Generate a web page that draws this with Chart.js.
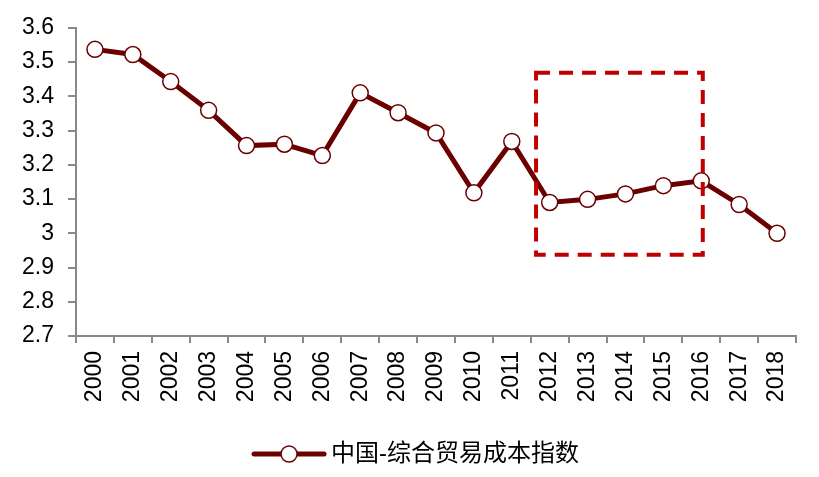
<!DOCTYPE html>
<html>
<head>
<meta charset="utf-8">
<script src="https://cdn.jsdelivr.net/npm/chart.js@4/dist/chart.umd.min.js"></script>
<style>
  body { margin: 0; background: #fff; }
</style>
</head>
<body>
<canvas id="myChart" width="819" height="477"></canvas>
<script>
const years = ['2000','2001','2002','2003','2004','2005','2006','2007','2008','2009',
               '2010','2011','2012','2013','2014','2015','2016','2017','2018'];
const costIndex = [3.537, 3.522, 3.443, 3.359, 3.256, 3.26, 3.227, 3.41, 3.352, 3.293,
                   3.118, 3.268, 3.09, 3.099, 3.115, 3.139, 3.153, 3.084, 3.0];
const yMin = 2.7;
const yMax = 3.6;
const yStep = 0.1;
const seriesName = '中国-综合贸易成本指数';
// highlighted period, in axis units (category index / index value)
const boxFrom = 11.64, boxTo = 16.04, boxLow = 2.937, boxHigh = 3.469;

const lineColor = '#6B0000';
const axisColor = '#898989';
const fontFamily = "'Liberation Sans', Arial, 'Noto Sans CJK SC', sans-serif";

// legend sample: line with a hollow circle in the middle
const legendImg = document.createElement('canvas');
legendImg.width = 76; legendImg.height = 20;
let lc = legendImg.getContext('2d');
lc.strokeStyle = lineColor; lc.lineWidth = 5; lc.lineCap = 'round';
lc.beginPath(); lc.moveTo(3, 10); lc.lineTo(73, 10); lc.stroke();
lc.fillStyle = '#fff'; lc.lineWidth = 1.5;
lc.beginPath(); lc.arc(38, 10, 8, 0, Math.PI * 2); lc.fill(); lc.stroke();

const highlightBox = {
  id: 'highlightBox',
  afterDatasetsDraw(chart) {
    const x = chart.scales.x, y = chart.scales.y, ctx = chart.ctx;
    const l = x.getPixelForValue(boxFrom), r = x.getPixelForValue(boxTo);
    const t = y.getPixelForValue(boxHigh), b = y.getPixelForValue(boxLow);
    ctx.save();
    ctx.strokeStyle = '#C00000';
    ctx.lineWidth = 4;
    ctx.setLineDash([14, 9]);
    ctx.strokeRect(l, t, r - l, b - t);
    ctx.restore();
  }
};

// nudge the legend a bit to the right, like the original
const legendShift = {
  id: 'legendShift',
  afterLayout(chart) {
    chart.legend.left += 21;
    chart.legend.right += 21;
  }
};

let ctx = document.getElementById('myChart').getContext('2d');
let chart = new Chart(ctx, {
  type: 'line',
  data: {
    labels: years,
    datasets: [{
      label: seriesName,
      data: costIndex,
      borderColor: lineColor,
      borderWidth: 5,
      pointRadius: 8,
      pointHoverRadius: 8,
      pointBorderWidth: 1.5,
      pointBackgroundColor: '#fff',
      pointBorderColor: lineColor,
      tension: 0
    }]
  },
  plugins: [highlightBox, legendShift],
  options: {
    responsive: false,
    animation: false,
    layout: { padding: { top: 24, right: 23, bottom: 1, left: 0 } },
    plugins: {
      legend: {
        position: 'bottom',
        labels: {
          usePointStyle: true,
          pointStyle: legendImg,
          pointStyleWidth: 60,
          padding: 10,
          color: '#000',
          font: { family: fontFamily, size: 24 }
        }
      },
      tooltip: { enabled: false }
    },
    scales: {
      x: {
        offset: true,
        grid: { drawOnChartArea: false, drawTicks: true, tickLength: 7, color: axisColor, lineWidth: 2, offset: true },
        border: { color: axisColor, width: 2 },
        ticks: { color: '#000', minRotation: 90, maxRotation: 90, padding: 8, font: { family: fontFamily, size: 23 } },
        afterFit(scale) { scale.height = 96; }
      },
      y: {
        min: yMin,
        max: yMax,
        grid: { drawOnChartArea: false, drawTicks: true, tickLength: 8, color: axisColor, lineWidth: 2 },
        border: { color: axisColor, width: 2 },
        ticks: {
          stepSize: yStep,
          color: '#000',
          padding: 14,
          font: { family: fontFamily, size: 23 },
          callback: v => String(parseFloat(v.toFixed(1)))
        },
        afterFit(scale) { scale.width = 76; }
      }
    }
  }
});
</script>
</body>
</html>
